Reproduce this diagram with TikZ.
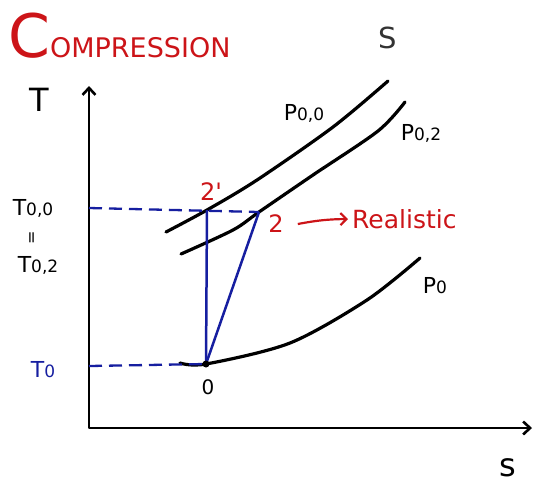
\documentclass[tikz,border=0pt]{standalone}
\usepackage{fontspec}
\setmainfont{DejaVu Sans}
\usetikzlibrary{arrows.meta,positioning,calc}
\definecolor{inkred}{RGB}{204,20,24}
\definecolor{inkblue}{RGB}{22,30,160}
\tikzset{
  axis/.style   = {line width=2.6pt, draw=black, line join=round,
                   {Straight Barb[length=7pt,width=13pt]}-{Straight Barb[length=7pt,width=13pt]}},
  isobar/.style = {line width=3.2pt, draw=black, line cap=round},
  proc/.style   = {line width=2.5pt, draw=inkblue},
  guide/.style  = {line width=2.3pt, draw=inkblue, dash pattern=on 13pt off 7pt},
  hand/.style   = {inner sep=0pt, font=\fontsize{22}{22}\selectfont},
  redtxt/.style = {hand, text=inkred},
  harr/.style   = {line width=2.2pt, draw=inkred, -{Straight Barb[length=6pt,width=12pt]}},
}
\newcommand{\sm}[1]{{\fontsize{17}{17}\selectfont #1}}

\begin{document}
\begin{tikzpicture}[x=1pt, y=-1pt]
\useasboundingbox (0,0) rectangle (535,483);

%% Title and diagram name
\node[redtxt, anchor=base west] (title) at (8,57)
  {{\fontsize{60}{60}\selectfont C}{\fontsize{27}{27}\selectfont OMPRESSION}};
\node[hand, text=black!80, font=\fontsize{29}{29}\selectfont] (name_s) at (388,38) {S};

%% Axes
\coordinate (origin) at (89,428);
\coordinate (y_top)  at (89,86);
\coordinate (x_end)  at (532,428);
\draw[axis] (y_top) -- (origin) -- (x_end);
\node[hand, font=\fontsize{32}{32}\selectfont] (lbl_T) at (39,100) {T};
\node[hand, font=\fontsize{32}{32}\selectfont] (lbl_s) at (508,468) {s};

%% State points
\coordinate (pt_0)  at (206,364);
\coordinate (pt_2s) at (207,210);
\coordinate (pt_2)  at (259,212);
\coordinate (t0_tick)  at (89,366);
\coordinate (t00_tick) at (89,208);

%% Isobars
\draw[isobar] plot[smooth] coordinates
  {(166,232) (pt_2s) (257,180) (333,127) (388,81)};
\draw[isobar] plot[smooth] coordinates
  {(181,254) (233,230) (pt_2) (313,175) (378,131) (405,102)};
\draw[isobar] plot[smooth] coordinates
  {(180,363) (pt_0) (290,343) (367,300) (420,258)};
\node[hand] (lbl_p00) at (304,113) {P\sm{0,0}};
\node[hand] (lbl_p02) at (421,133) {P\sm{0,2}};
\node[hand] (lbl_p0)  at (435,286) {P\sm{0}};

%% Temperature guides
\draw[guide] (t00_tick) -- (pt_2);
\draw[guide] (t0_tick) -- (pt_0);
\node[hand] (lbl_t00) at (33,208) {T\sm{0,0}};
\node[hand, rotate=90, font=\fontsize{16}{16}\selectfont] (lbl_eq) at (33,238) {=};
\node[hand] (lbl_t02) at (38,265) {T\sm{0,2}};
\node[hand, text=inkblue] (lbl_t0) at (43,370) {T\sm{0}};

%% Compression paths
\draw[proc] (pt_0) -- (pt_2s);
\draw[proc] (pt_0) -- (pt_2);
\fill (pt_0) circle (3.5pt);
\node[hand, font=\fontsize{20}{20}\selectfont] (lbl_0) at (208,387) {0};
\node[redtxt, font=\fontsize{24}{24}\selectfont] (lbl_2s) at (211,192) {2\textquotesingle};
\node[redtxt, font=\fontsize{24}{24}\selectfont] (lbl_2)  at (276,224) {2};
\node[redtxt, font=\fontsize{25}{25}\selectfont, anchor=west] (lbl_real) at (352,219) {Realistic};
\draw[harr] ([xshift=14pt]lbl_2.east) to[bend left=5] ([xshift=-4pt]lbl_real.west);

\end{tikzpicture}
\end{document}
